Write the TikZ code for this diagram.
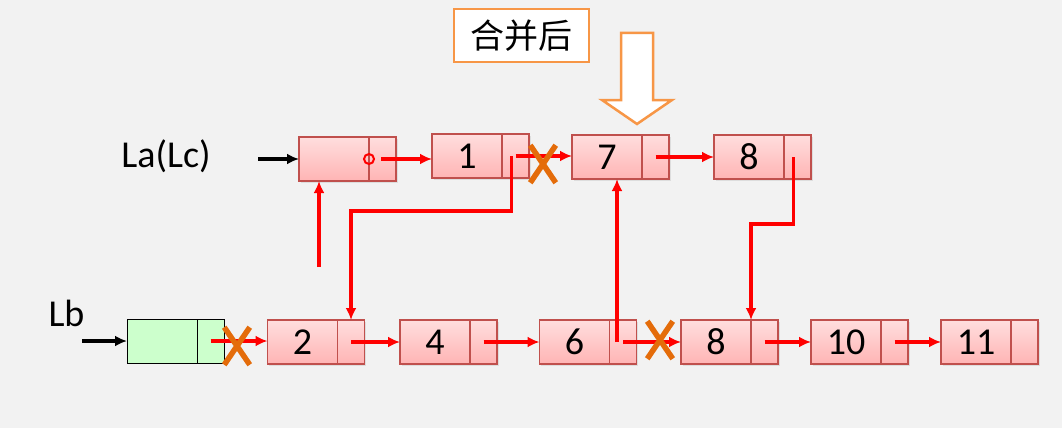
\documentclass[tikz,border=0pt]{standalone}
\usepackage{fontspec}
\setmainfont{Carlito}
\newfontfamily\cjk{Noto Sans CJK SC}
\usetikzlibrary{positioning}
\usetikzlibrary{arrows.meta}
\usetikzlibrary{shapes.misc}
\usetikzlibrary{shadows}
\definecolor{bg}{HTML}{F2F2F2}
\definecolor{edge}{HTML}{C0504D}
\definecolor{pale}{HTML}{FFDEDE}
\definecolor{rose}{HTML}{FFB4B4}
\definecolor{mint}{HTML}{CCFFCC}
\definecolor{amber}{HTML}{F79646}
\definecolor{rust}{HTML}{E46C0A}
\tikzset{
  big/.style={font=\fontsize{38}{40}\selectfont},
  cell/.style={draw=edge, line width=1.2pt, top color=pale, bottom color=rose,
    minimum height=44pt, inner sep=0pt, outer sep=0pt, big,
    drop shadow={opacity=0.18, shadow xshift=1.5pt, shadow yshift=-1.5pt}},
  datacell/.style={cell, minimum width=70pt},
  ptrcell/.style={cell, minimum width=27pt},
  greencell/.style={draw=black, line width=1pt, fill=mint, minimum height=44pt,
    inner sep=0pt, outer sep=0pt},
  link/.style={red, line width=3.6pt, -{Latex[length=12pt,width=11pt]}},
  feed/.style={black, line width=3.6pt, -{Latex[length=12pt,width=11pt]}},
  cut/.style={cross out, draw=rust, line width=5.5pt, minimum width=20pt,
    minimum height=32pt, inner sep=0pt},
}
\begin{document}
\begin{tikzpicture}[x=1pt,y=-1pt]
\fill[bg] (0,0) rectangle (1062,428);
\useasboundingbox (0,0) rectangle (1062,428);

% title and hollow arrow
\node[draw=amber, line width=2.5pt, fill=white, minimum width=135pt, minimum height=53pt,
  font=\cjk\fontsize{34}{36}\selectfont] (title) at (521.5,35.5) {合并后};
\draw[amber, line width=2.5pt, fill=white] (621,33) -- (653,33) -- (653,100) -- (672,100)
  -- (637,124) -- (602,100) -- (621,100) -- cycle;

% labels
\node[big, anchor=base] (la) at (166,167) {La(Lc)};
\node[big, anchor=base] (lbl) at (66.5,326) {Lb};

% list La
\node[datacell] (ha) at (334,159) {};
\node[ptrcell, right=0pt of ha] (hap) {};
\node[datacell] (t1) at (467,156) {1};
\node[ptrcell, right=0pt of t1] (t1p) {};
\node[datacell] (t7) at (607,157) {7};
\node[ptrcell, right=0pt of t7] (t7p) {};
\node[datacell] (t8) at (749,157) {8};
\node[ptrcell, right=0pt of t8] (t8p) {};

% list Lb
\node[greencell, minimum width=70pt] (lb) at (162,341) {};
\node[greencell, minimum width=27pt, right=0pt of lb] (lbp) {};
\node[datacell] (b2) at (302.5,342) {2};
\node[ptrcell, right=0pt of b2] (b2p) {};
\node[datacell] (b4) at (435,342) {4};
\node[ptrcell, right=0pt of b4] (b4p) {};
\node[datacell] (b6) at (574.5,342) {6};
\node[ptrcell, right=0pt of b6] (b6p) {};
\node[datacell] (b8) at (716,342) {8};
\node[ptrcell, right=0pt of b8] (b8p) {};
\node[datacell] (b10) at (846,342) {10};
\node[ptrcell, right=0pt of b10] (b10p) {};
\node[datacell] (b11) at (976,342) {11};
\node[ptrcell, right=0pt of b11] (b11p) {};

% head pointers
\coordinate (ain) at (258,159);
\coordinate (bin) at (82,341);
\draw[feed] (ain) -- (ha.west);
\draw[feed] (bin) -- (lb.west);

% links
\node[draw=red, circle, line width=2pt, minimum size=10pt, inner sep=0pt] (dot) at (hap.west) {};
\draw[link, shorten <=6pt] (dot) -- (dot -| t1.west);
\foreach \p/\q in {t1p/t7, t7p/t8, lbp/b2, b2p/b4, b4p/b6, b6p/b8, b8p/b10, b10p/b11}
{\draw[link] (\p.center) -- (\p.center -| \q.west);}
\draw[link] ([xshift=-4pt]t1p.center) -- ++(0,55) -| (b2p.north);
\draw[link] ([xshift=-4pt]t8p.center) -- ++(0,67) -| (b8.north east);
\draw[link] ([xshift=-6pt]b6p.center) -- ([xshift=-6pt]b6p.center |- t7.south);
\coordinate (rise) at (319,267);
\draw[link] (rise) -- (rise |- ha.south);

% broken links
\node[cut] (c1) at (543,164) {};
\node[cut] (c2) at (237,346) {};
\node[cut] (c3) at (660,340) {};
\end{tikzpicture}
\end{document}
